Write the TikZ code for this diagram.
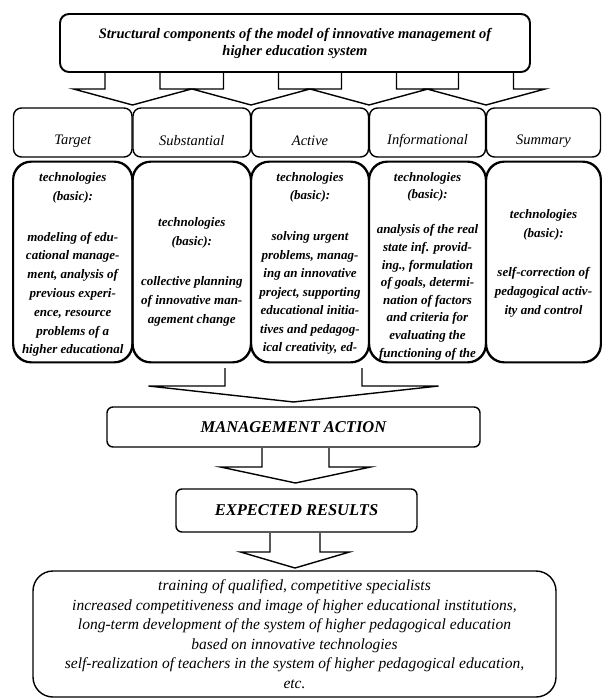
\documentclass[tikz,border=0pt]{standalone}
\usepackage{fontspec}
\setmainfont{Liberation Serif}
\usetikzlibrary{calc}
\tikzset{
  bx/.style={draw, line width=1.4pt, fill=white, inner sep=0pt},
  topbox/.style={bx, line width=1.9pt, rounded corners=9pt, align=center,
     font=\bfseries\itshape\fontsize{14.5}{17}\selectfont},
  hdr/.style={bx, rounded corners=8pt, minimum height=49pt},
  htext/.style={inner sep=0pt, font=\itshape\fontsize{14.5}{17}\selectfont},
  cbox/.style={draw, line width=1.4pt, rounded corners=18pt, inner sep=0pt, minimum height=200pt},
  ctext/.style={inner sep=0pt, anchor=north, align=center},
  midbox/.style={bx, rounded corners=6pt, font=\bfseries\itshape\fontsize{16.5}{19}\selectfont},
  botbox/.style={bx, rounded corners=20pt, align=center, font=\itshape\fontsize{15.5}{19.5}\selectfont},
  blockarr/.style={draw, line width=1.4pt, fill=white, line join=miter},
}
\newcommand{\blockarrowshape}[6]{% centre x, stem half, head half, top y, base y, tip y
  \draw[blockarr] (#1-#2,#4) -- (#1-#2,#5) -- (#1-#3,#5) -- (#1,#6) -- (#1+#3,#5) -- (#1+#2,#5) -- (#1+#2,#4);}
\begin{document}
\begin{tikzpicture}[x=1pt,y=-1pt]
\useasboundingbox[fill=white] (0,0) rectangle (603,700);

% arrows under the top box
\foreach \c in {132.5,251,369,486}{\blockarrowshape{\c}{27.5}{59}{73}{89}{105}}

% top box
\node[topbox, minimum width=470pt, minimum height=58pt] (top) at (295,43)
  {Structural components of the model of innovative management of\\higher education system};

% headers
\node[hdr, minimum width=118.5pt] (h1) at (72.75,132.5) {};
\node[hdr, minimum width=117.5pt] (h2) at (191.75,132.5) {};
\node[hdr, minimum width=117pt] (h3) at (310,132.5) {};
\node[hdr, minimum width=116pt] (h4) at (427.5,132.5) {};
\node[hdr, minimum width=114pt] (h5) at (543.5,132.5) {};
\node[htext] (t1) at ($(h1)+(0,8.5)$) {Target};
\node[htext] (t2) at ($(h2)+(0,8.5)$) {Substantial};
\node[htext] (t3) at ($(h3)+(0,8.5)$) {Active};
\node[htext] (t4) at ($(h4)+(0,8.5)$) {Informational};
\node[htext] (t5) at ($(h5)+(0,8.5)$) {Summary};

% content boxes (text clipped to the box)
\node[cbox, fill=white, minimum width=118.5pt] (c1) at (72.75,262) {};
\node[cbox, fill=white, minimum width=117.5pt] (c2) at (191.75,262) {};
\node[cbox, fill=white, minimum width=117pt] (c3) at (310,262) {};
\node[cbox, fill=white, minimum width=116pt] (c4) at (427.5,262) {};
\node[cbox, fill=white, minimum width=114pt] (c5) at (543.5,262) {};

\begin{scope}
\clip[rounded corners=18pt] (c1.south west) rectangle (c1.north east);
\node[ctext, font=\bfseries\itshape\fontsize{13}{18.8}\selectfont] (x1) at (72.75,172)
 {technologies\\(basic):\\[22.2pt]modeling of edu-\\cational manage-\\ment, analysis of\\previous experi-\\ence, resource\\problems of a\\higher educational};
\end{scope}
\begin{scope}
\clip[rounded corners=18pt] (c2.south west) rectangle (c2.north east);
\node[ctext, font=\bfseries\itshape\fontsize{13}{18.8}\selectfont] (x2) at (191.75,217)
 {technologies\\(basic):\\[22pt]collective planning\\of innovative man-\\agement change};
\end{scope}
\begin{scope}
\clip[rounded corners=18pt] (c3.south west) rectangle (c3.north east);
\node[ctext, font=\bfseries\itshape\fontsize{13}{18.5}\selectfont] (x3) at (310,172)
 {technologies\\(basic):\\[22.5pt]solving urgent\\problems, manag-\\ing an innovative\\project, supporting\\educational initia-\\tives and pedagog-\\ical creativity, ed-};
\end{scope}
\begin{scope}
\clip[rounded corners=18pt] (c4.south west) rectangle (c4.north east);
\node[ctext, font=\bfseries\itshape\fontsize{13}{17.6}\selectfont] (x4) at (427.5,172)
 {technologies\\(basic):\\[17.4pt]analysis of the real\\state inf. provid-\\ing., formulation\\of goals, determi-\\nation of factors\\and criteria for\\evaluating the\\functioning of the\\information};
\end{scope}
\begin{scope}
\clip[rounded corners=18pt] (c5.south west) rectangle (c5.north east);
\node[ctext, font=\bfseries\itshape\fontsize{13}{19}\selectfont] (x5) at (543.5,209)
 {technologies\\(basic):\\[20pt]self-correction of\\pedagogical activ-\\ity and control};
\end{scope}
\foreach \n in {c1,c2,c3,c4,c5}{\draw[line width=1.4pt, rounded corners=18pt] (\n.south west) rectangle (\n.north east);}

% big arrow
\blockarrowshape{293.5}{68.5}{145}{368}{386}{402}
\node[midbox, minimum width=373pt, minimum height=40pt] (ma) at (293.5,427) {MANAGEMENT ACTION};
\blockarrowshape{295.5}{33.5}{75}{448}{467}{483}
\node[midbox, minimum width=241pt, minimum height=43pt] (er) at (296.5,510.5) {EXPECTED RESULTS};
\blockarrowshape{295}{25}{54.5}{533}{552}{568}
\node[botbox, minimum width=523pt, minimum height=126pt] (res) at (294.5,634)
 {training of qualified, competitive specialists\\
  increased competitiveness and image of higher educational institutions,\\
  long-term development of the system of higher pedagogical education\\
  based on innovative technologies\\
  self-realization of teachers in the system of higher pedagogical education,\\
  etc.};
\end{tikzpicture}
\end{document}
